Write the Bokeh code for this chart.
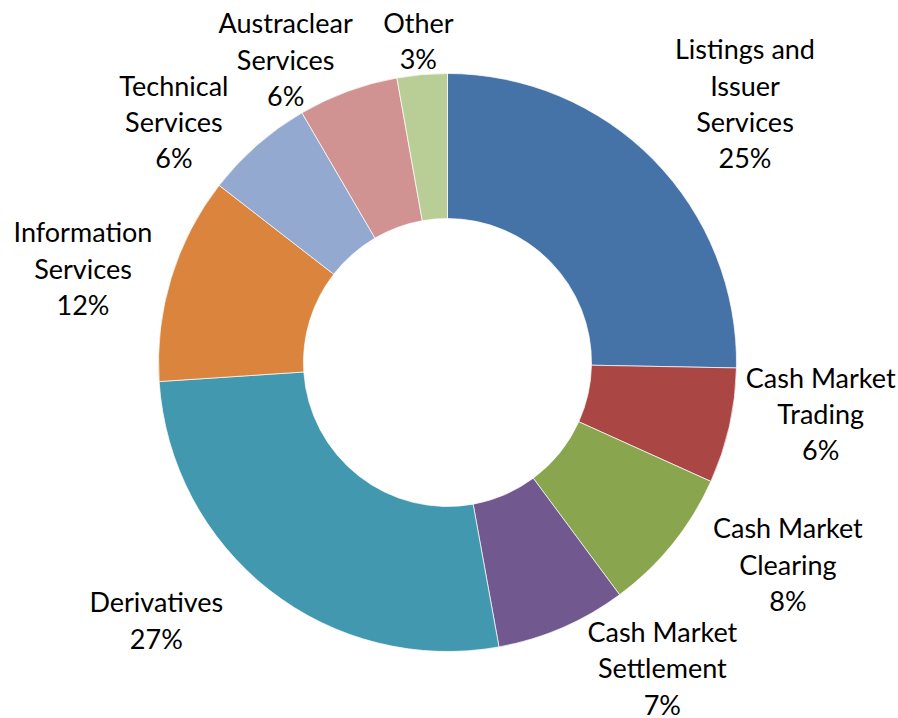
import math
from bokeh.plotting import figure
from bokeh.models import Range1d, ColumnDataSource
from bokeh.embed import file_html
from bokeh.resources import INLINE
from bokeh.core.properties import value

# ---------------- data ----------------
categories = [
    "Listings and\nIssuer\nServices",
    "Cash Market\nTrading",
    "Cash Market\nClearing",
    "Cash Market\nSettlement",
    "Derivatives",
    "Information\nServices",
    "Technical\nServices",
    "Austraclear\nServices",
    "Other",
]
shares = [25.3, 6.45, 8.1, 7.3, 26.8, 11.55, 6.1, 5.6, 2.8]
colors = ["#4572A7", "#AA4643", "#89A54E", "#71588F", "#4198AF",
          "#DB843D", "#93A9CF", "#D19392", "#B9CD96"]

# ---------------- layout (pixels) ----------------
W, H = 898, 718
CX, CY = 447, 362          # donut centre inside the figure (from top-left)
R_OUT, R_IN = 289, 144
LBL_RX, LBL_RY = 400, 323  # ellipse on which label blocks are centred
# manual label offsets (screen px, right / down), like dragged Excel labels
label_nudge = [(12, -33), (-17, -20), (29, -1), (56, 9), (-45, 3),
               (18, 0), (-10, 2), (-24, 0), (6, 0)]

total = sum(shares)
starts, ends, mids = [], [], []
cum = 0.0
for s in shares:
    a0 = math.pi / 2 - 2 * math.pi * cum / total
    cum += s
    a1 = math.pi / 2 - 2 * math.pi * cum / total
    starts.append(a0)
    ends.append(a1)
    mids.append((a0 + a1) / 2)

src = ColumnDataSource(dict(start=starts, end=ends, color=colors))

p = figure(width=W, height=H, output_backend="svg", toolbar_location=None,
           x_range=Range1d(-CX, W - CX), y_range=Range1d(-(H - CY), CY),
           x_axis_type=None, y_axis_type=None, min_border=0,
           outline_line_color=None)
p.grid.visible = False
p.background_fill_color = "white"
p.border_fill_color = "white"

p.annular_wedge(x=0, y=0, inner_radius=R_IN, outer_radius=R_OUT,
                start_angle="start", end_angle="end", direction="clock",
                fill_color="color", line_color="white", line_width=0.7,
                source=src)

lx, ly, lt = [], [], []
for cat, s, m, (dx, dy) in zip(categories, shares, mids, label_nudge):
    lx.append(LBL_RX * math.cos(m) + dx)
    ly.append(LBL_RY * math.sin(m) - dy)
    lt.append(f"{cat}\n{round(s)}%")

p.text(x=lx, y=ly, text=lt, text_font=value("Lato"), text_font_size="27px",
       text_align="center", text_baseline="middle", text_line_height=1.1,
       text_color="black")

open("out.html", "w").write(file_html(p, INLINE))
